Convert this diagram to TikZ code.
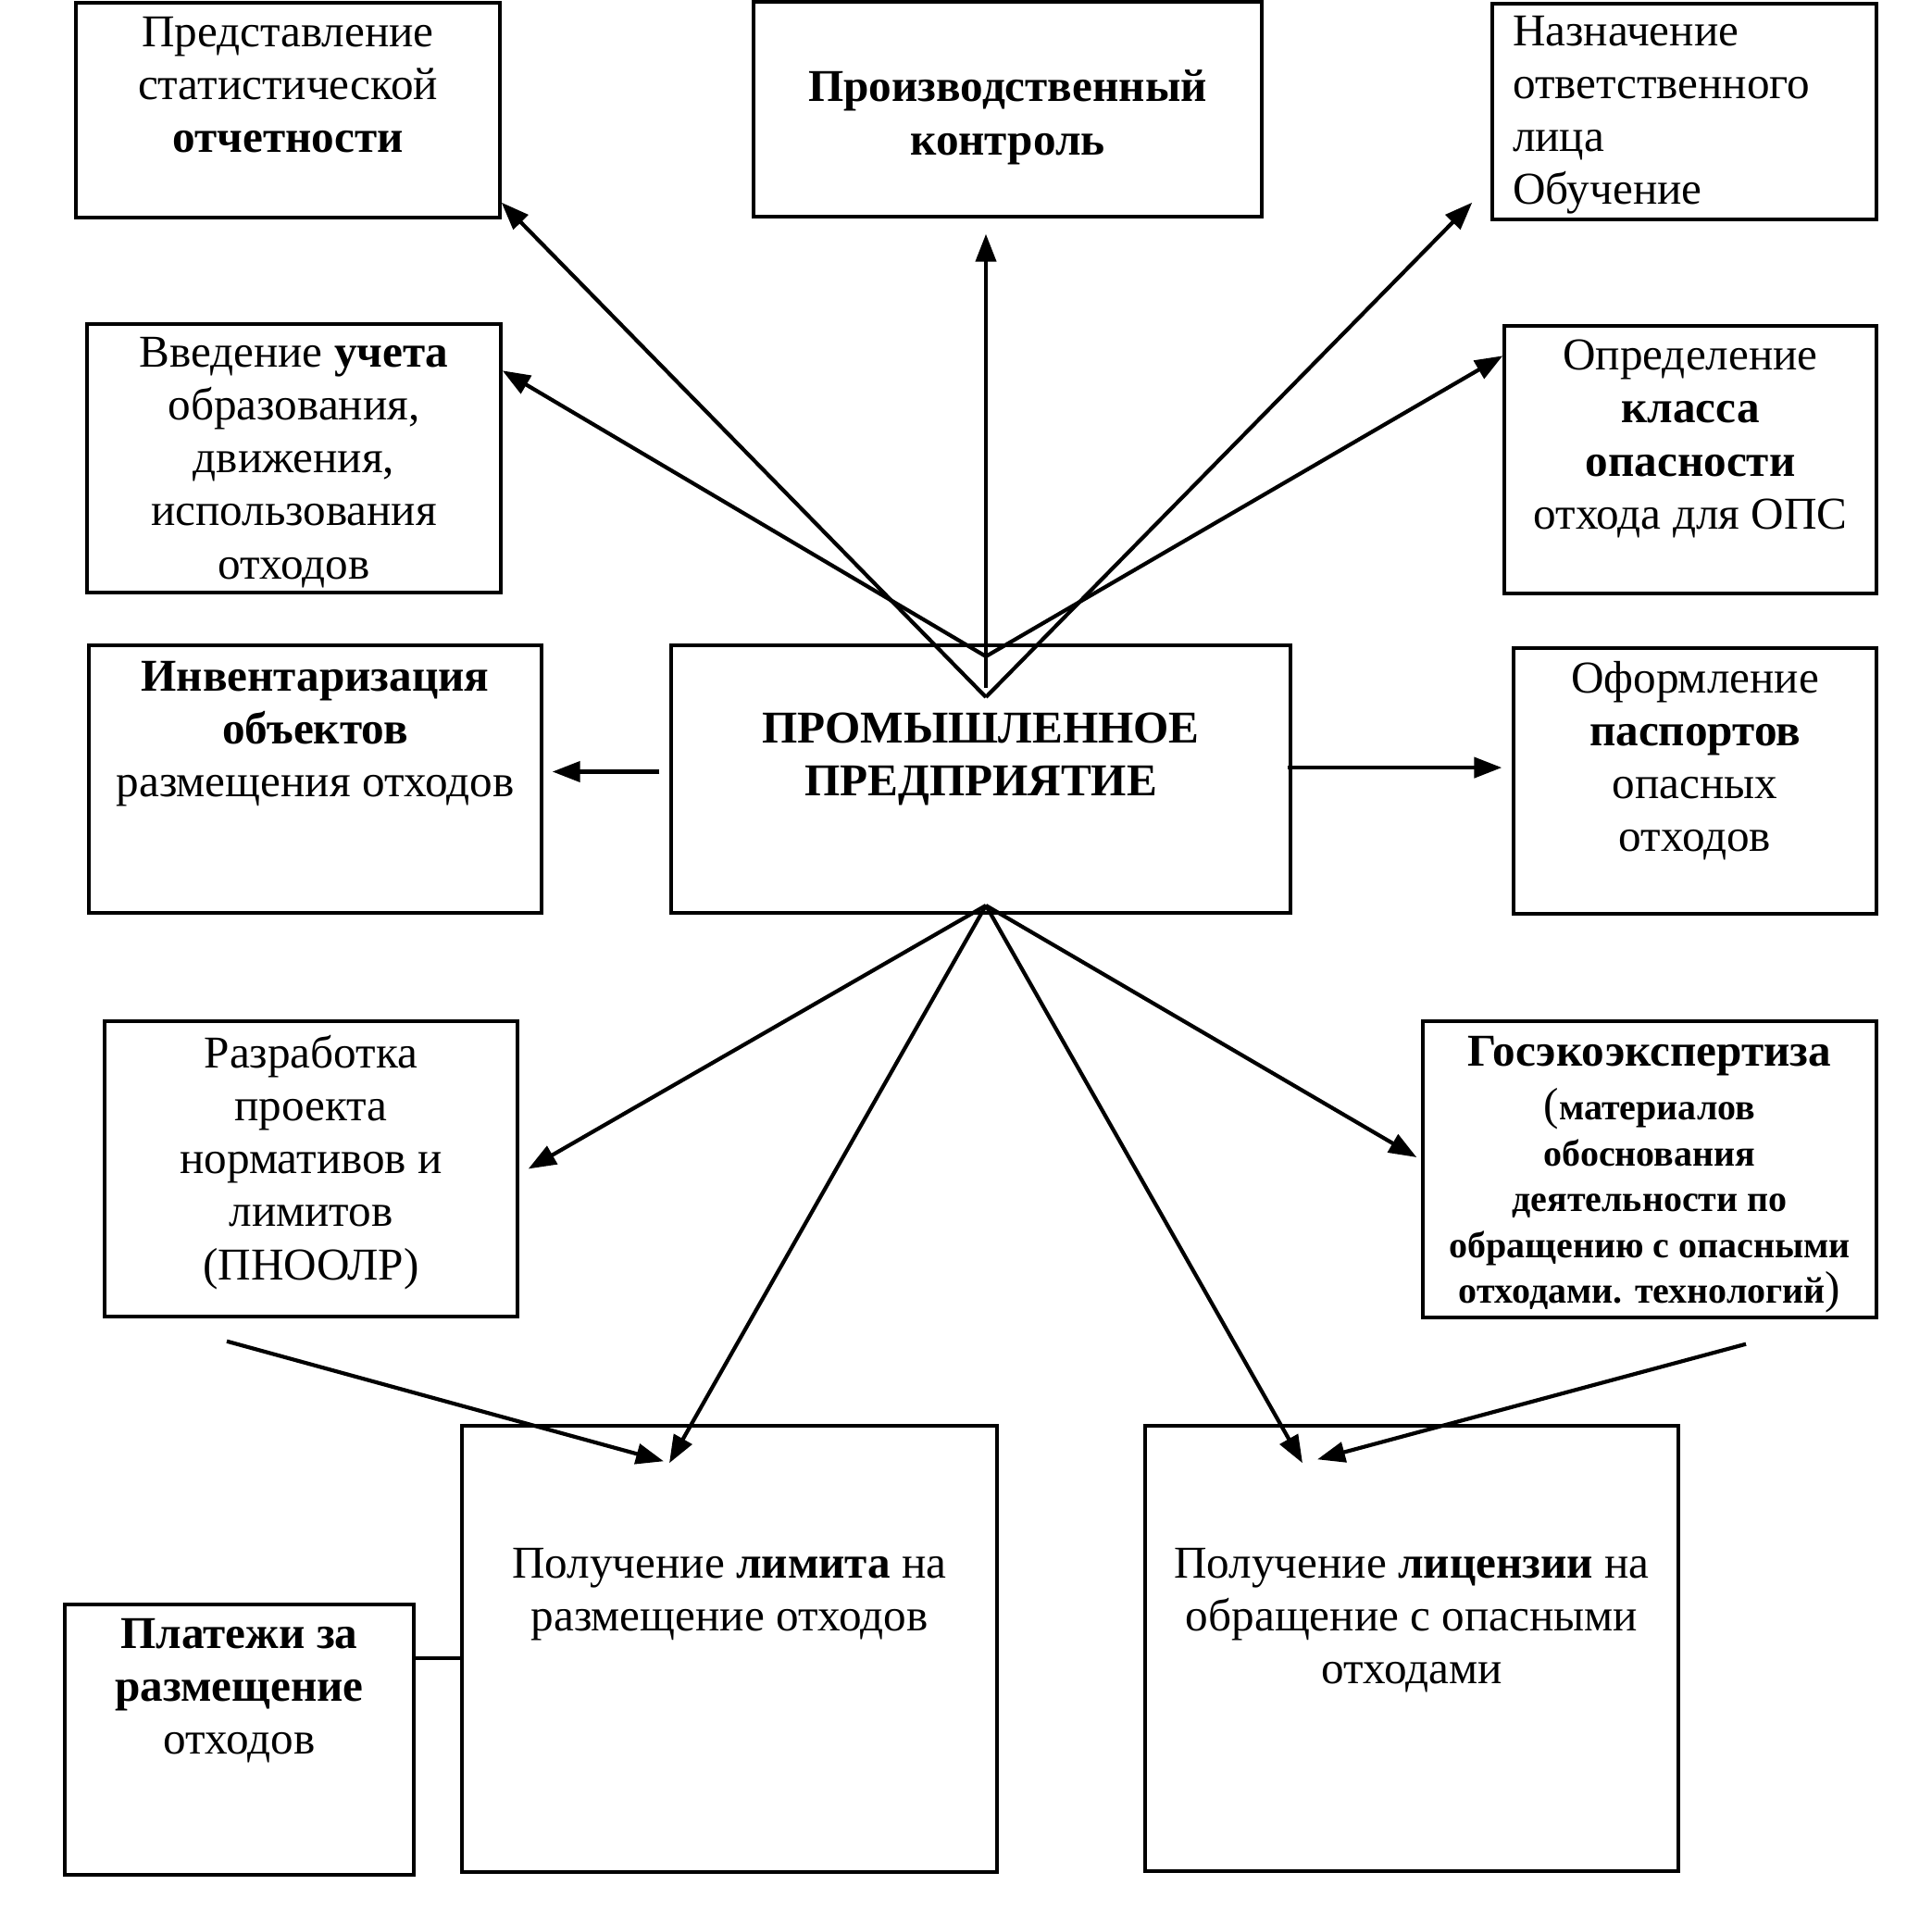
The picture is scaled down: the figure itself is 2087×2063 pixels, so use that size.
\documentclass[tikz,border=0pt]{standalone}
\usepackage{fontspec}
\setmainfont{Liberation Serif}
\usetikzlibrary{positioning,arrows.meta}

\begin{document}
\begin{tikzpicture} [
        x=0.25pt,
        y=-0.25pt,
        boxnode/.style={
            rectangle,
            draw,
            line width=0.85pt,
            inner sep=0pt
        },
        labelnode/.style={
            inner sep=0pt,
            align=center,
            font=\fontsize{12.3}{14.3}\selectfont
        },
        boldlabel/.style={
            labelnode,
            font=\fontsize{12.3}{14.3}\selectfont\bfseries
        },
        smalllabel/.style={
            labelnode,
            font=\fontsize{10}{12.4}\selectfont\bfseries
        },
        arrowline/.style={
            line width=1.05pt,
            -{Triangle[length=7.5pt,width=5.5pt]}
        }
    ]

        \useasboundingbox (0,0) rectangle (2087,2063);

        \node[boxnode, minimum width=114.5pt,  minimum height=58pt]    (stat)    at (311,119)      {};
        \node[boxnode, minimum width=137.25pt, minimum height=58pt]    (proizv)  at (1088.5,118)   {};
        \node[boxnode, minimum width=103.75pt, minimum height=58.25pt] (naznach) at (1819.5,120.5) {};
        \node[boxnode, minimum width=111.75pt, minimum height=72.5pt]  (uchet)   at (317.5,495)    {};
        \node[boxnode, minimum width=100.5pt,  minimum height=72.25pt] (opred)   at (1826,496.5)   {};
        \node[boxnode, minimum width=122.25pt, minimum height=72.25pt] (invent)  at (340.5,841.5)  {};
        \node[boxnode, minimum width=167.25pt, minimum height=72.25pt] (predpr)  at (1059.5,841.5) {};
        \node[boxnode, minimum width=98pt,     minimum height=71.75pt] (oform)   at (1831,843.5)   {};
        \node[boxnode, minimum width=111.5pt,  minimum height=79.75pt] (razrab)  at (336,1262.5)   {};
        \node[boxnode, minimum width=122.5pt,  minimum height=80pt]    (goseko)  at (1782,1263)    {};
        \node[boxnode, minimum width=144.5pt,  minimum height=120.5pt] (limit)   at (788,1781)     {};
        \node[boxnode, minimum width=144pt,    minimum height=120.25pt] (licenz) at (1525,1780.5)  {};
        \node[boxnode, minimum width=94.25pt,  minimum height=73pt]    (plat)    at (258.5,1879)   {};

        \node[labelnode]  (stattext)    [below=4pt of stat.north]       {Представление\\статистической\\\textbf{отчетности}};
        \node[boldlabel]  (proizvtext)  [below=18.75pt of proizv.north] {Производственный\\контроль};
        \node[labelnode, align=left] (naznachtext) [below right=3.5pt and 5.75pt of naznach.north west] {Назначение\\ответственного\\лица\\Обучение};
        \node[labelnode]  (uchettext)   [below=3.75pt of uchet.north]   {Введение \textbf{учета}\\образования,\\движения,\\использования\\отходов};
        \node[labelnode]  (opredtext)   [below=4pt of opred.north]      {Определение\\\textbf{класса}\\\textbf{опасности}\\отхода для ОПС};
        \node[labelnode]  (inventtext)  [below=4.5pt of invent.north]   {\textbf{Инвентаризация}\\\textbf{объектов}\\размещения отходов};
        \node[boldlabel]  (predprtext)  [below=18.5pt of predpr.north]  {ПРОМЫШЛЕННОЕ\\ПРЕДПРИЯТИЕ};
        \node[labelnode]  (oformtext)   [below=3.75pt of oform.north]   {Оформление\\\textbf{паспортов}\\опасных\\отходов};
        \node[labelnode]  (razrabtext)  [below=4pt of razrab.north]     {Разработка\\проекта\\нормативов и\\лимитов\\(ПНООЛР)};
        \node[boldlabel]  (gosekotitle) [below=4.25pt of goseko.north]  {Госэкоэкспертиза};
        \node[smalllabel] (gosekotext)  [below=3pt of gosekotitle]      {{\fontsize{12.3}{12.4}\selectfont\mdseries(}материалов\\обоснования\\деятельности по\\обращению с опасными\\отходами. технологий{\fontsize{12.3}{12.4}\selectfont\mdseries)}};
        \node[labelnode]  (limittext)   [below=33.25pt of limit.north]  {Получение \textbf{лимита} на\\размещение отходов};
        \node[labelnode]  (licenztext)  [below=33.25pt of licenz.north] {Получение \textbf{лицензии} на\\обращение с опасными\\отходами};
        \node[labelnode]  (plattext)    [below=4pt of plat.north]       {\textbf{Платежи за}\\\textbf{размещение}\\отходов};

        \coordinate (apexhigh)   at (1065,709);
        \coordinate (apexmid)    at (1065,743);
        \coordinate (apexlow)    at (1065,753);
        \coordinate (apexbottom) at (1065,978);

        \draw[arrowline] (apexlow)  -- ([yshift=4.5pt]stat.south east);
        \draw[arrowline] (apexlow)  -- ([shift={(-5pt,5pt)}]naznach.south west);
        \draw[arrowline] (apexhigh) -- ([yshift=-13pt]uchet.north east);
        \draw[arrowline] (apexhigh) -- ([yshift=-8.5pt]opred.north west);
        \draw[arrowline] (apexmid)  -- ([yshift=-4.25pt]apexmid |- proizv.south);

        \draw[arrowline] ([shift={(-2.75pt,2pt)}]predpr.west) -- ([shift={(2.5pt,2pt)}]invent.east);
        \draw[arrowline] ([shift={(-1.25pt,3.1pt)}]predpr.east) -- ([shift={(-2.75pt,3.6pt)}]oform.west);

        \draw[arrowline] (apexbottom) -- ([xshift=2.5pt]razrab.east);
        \draw[arrowline] (apexbottom) -- ([shift={(-16.25pt,-10.5pt)}]limit.north);
        \draw[arrowline] (apexbottom) -- ([shift={(-29.5pt,-10.5pt)}]licenz.north);
        \draw[arrowline] (apexbottom) -- ([shift={(-1.25pt,3.25pt)}]goseko.west);

        \draw[arrowline] ([shift={(-22.75pt,-6.25pt)}]razrab.south) -- ([shift={(-17.75pt,-10pt)}]limit.north);
        \draw[arrowline] ([shift={(26pt,-6.75pt)}]goseko.south) -- ([shift={(-25.5pt,-9.5pt)}]licenz.north);

        \draw[line width=0.85pt] ([yshift=22pt]plat.east) -- ([yshift=22pt]plat.east -| limit.west);

    \end{tikzpicture}
\end{document}
